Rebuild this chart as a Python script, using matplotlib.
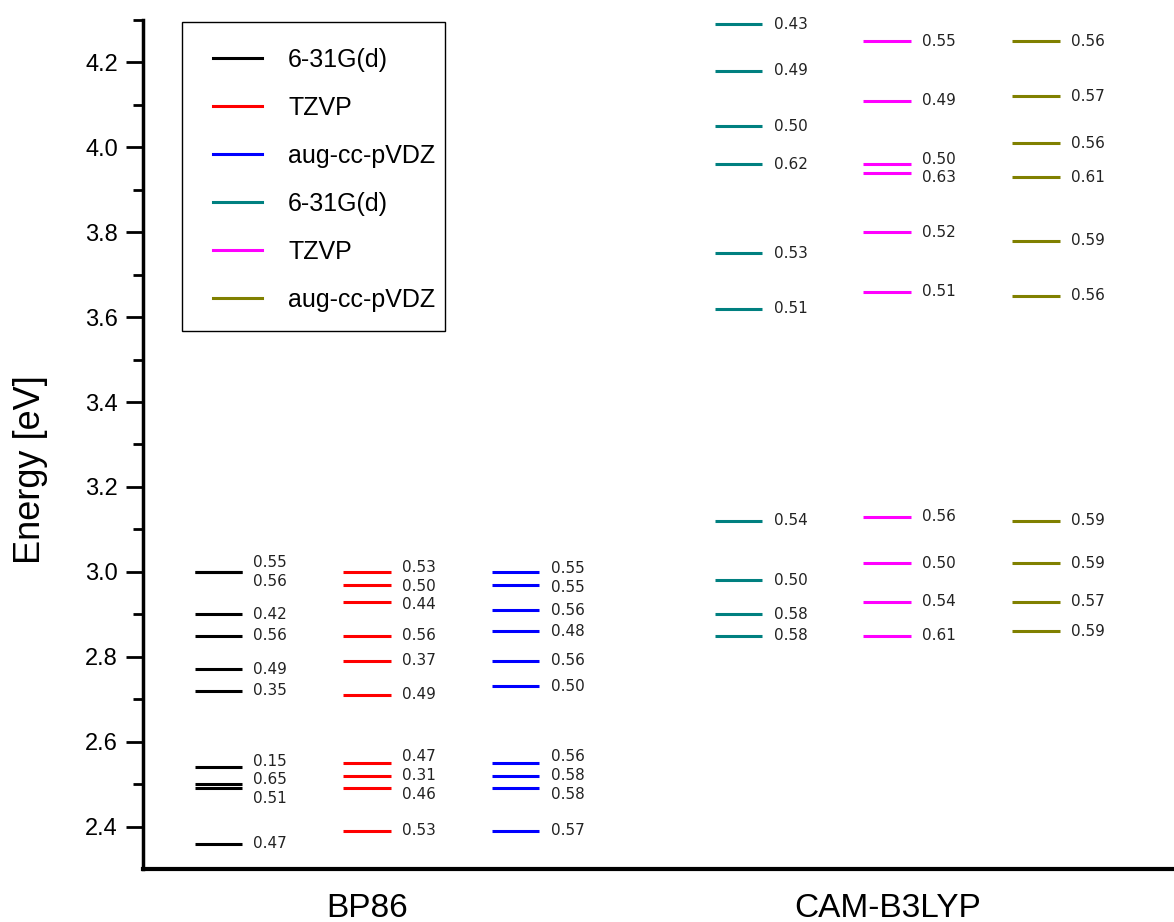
import matplotlib
matplotlib.use("Agg")
import matplotlib.pyplot as plt
from matplotlib.lines import Line2D
from matplotlib.patches import Rectangle
import numpy as np

# ---------------- data ----------------
groups = ["BP86", "CAM-B3LYP"]
basis_sets = ["6-31G(d)", "TZVP", "aug-cc-pVDZ", "6-31G(d)", "TZVP", "aug-cc-pVDZ"]
series_colors = ["#000000", "#ff0000", "#0000ff", "#008080", "#ff00ff", "#808000"]

bp86_631g_E = [3.00, 3.00, 2.90, 2.85, 2.77, 2.72, 2.54, 2.50, 2.49, 2.36]
bp86_631g_f = ["0.55", "0.56", "0.42", "0.56", "0.49", "0.35", "0.15", "0.65", "0.51", "0.47"]

bp86_tzvp_E = [3.00, 2.97, 2.93, 2.85, 2.79, 2.71, 2.55, 2.52, 2.49, 2.39]
bp86_tzvp_f = ["0.53", "0.50", "0.44", "0.56", "0.37", "0.49", "0.47", "0.31", "0.46", "0.53"]

bp86_aug_E = [3.00, 2.97, 2.91, 2.86, 2.79, 2.73, 2.55, 2.52, 2.49, 2.39]
bp86_aug_f = ["0.55", "0.55", "0.56", "0.48", "0.56", "0.50", "0.56", "0.58", "0.58", "0.57"]

cam_631g_E = [4.29, 4.18, 4.05, 3.96, 3.75, 3.62, 3.12, 2.98, 2.90, 2.85]
cam_631g_f = ["0.43", "0.49", "0.50", "0.62", "0.53", "0.51", "0.54", "0.50", "0.58", "0.58"]

cam_tzvp_E = [4.25, 4.11, 3.96, 3.94, 3.80, 3.66, 3.13, 3.02, 2.93, 2.85]
cam_tzvp_f = ["0.55", "0.49", "0.50", "0.63", "0.52", "0.51", "0.56", "0.50", "0.54", "0.61"]

cam_aug_E = [4.25, 4.12, 4.01, 3.93, 3.78, 3.65, 3.12, 3.02, 2.93, 2.86]
cam_aug_f = ["0.56", "0.57", "0.56", "0.61", "0.59", "0.56", "0.59", "0.59", "0.57", "0.59"]

all_E = [bp86_631g_E, bp86_tzvp_E, bp86_aug_E, cam_631g_E, cam_tzvp_E, cam_aug_E]
all_f = [bp86_631g_f, bp86_tzvp_f, bp86_aug_f, cam_631g_f, cam_tzvp_f, cam_aug_f]

# ---------------- layout ----------------
col_pos = [0.0, 1.0, 2.0, 3.5, 4.5, 5.5]
group_pos = [1.0, 4.5]
half_w = 0.16
lab_dx = 0.235
min_gap = 0.044


def spread_labels(energies, gap):
    """Place label y-positions so they don't overlap (cluster centering)."""
    order = sorted(range(len(energies)), key=lambda i: -energies[i])
    ys = [energies[i] for i in order]
    clusters = [[k] for k in range(len(ys))]
    changed = True
    while changed:
        changed = False
        new_clusters = []
        for c in clusters:
            if new_clusters:
                prev = new_clusters[-1]
                prev_center = np.mean([ys[k] for k in prev])
                prev_bottom = prev_center - gap * (len(prev) - 1) / 2
                cur_center = np.mean([ys[k] for k in c])
                cur_top = cur_center + gap * (len(c) - 1) / 2
                if prev_bottom - cur_top < gap - 1e-9:
                    new_clusters[-1] = prev + c
                    changed = True
                    continue
            new_clusters.append(c)
        clusters = new_clusters
    pos = list(ys)
    for c in clusters:
        center = np.mean([ys[k] for k in c])
        n = len(c)
        for j, k in enumerate(c):
            pos[k] = center + gap * ((n - 1) / 2 - j)
    out = [0.0] * len(energies)
    for rank, i in enumerate(order):
        out[i] = pos[rank]
    return out


fig = plt.figure(figsize=(11.74, 9.22), dpi=100)
ax = fig.add_axes([143 / 1174, 53 / 922, 1 - 143 / 1174, 849 / 922])

for x, E, f, col in zip(col_pos, all_E, all_f, series_colors):
    ax.hlines(E, x - half_w, x + half_w, colors=col, linewidth=2.2)
    ly = spread_labels(E, min_gap)
    for yy, txt in zip(ly, f):
        ax.text(x + lab_dx, yy, txt, fontsize=11, va="center", ha="left",
                family="DejaVu Sans", color="#222222")

ax.set_xlim(-0.508, 6.43)
ax.set_ylim(2.3, 4.3)

major = np.arange(2.4, 4.21, 0.2)
ax.set_yticks(major)
ax.set_yticks(np.arange(2.5, 4.31, 0.2), minor=True)
ax.set_yticklabels([f"{v:.1f}" for v in major], fontsize=17, family="Liberation Sans")
ax.tick_params(axis="y", which="major", length=12, width=2, pad=6)
ax.tick_params(axis="y", which="minor", length=7, width=2)

ax.set_xticks(group_pos)
ax.set_xticklabels(groups, fontsize=24, family="Liberation Sans")
ax.tick_params(axis="x", length=0, pad=17)

ax.set_ylabel("Energy [eV]", fontsize=26, family="Liberation Sans")
ax.yaxis.set_label_coords(-0.092, 0.47)

for s in ["top", "right"]:
    ax.spines[s].set_visible(False)
ax.spines["left"].set_linewidth(2.5)
ax.spines["bottom"].set_linewidth(3)

handles = [Line2D([0], [0], color=c, lw=2.2) for c in series_colors]
leg = ax.legend(handles, basis_sets, loc="upper left",
                bbox_to_anchor=(0.0679, 0.9676), borderaxespad=0, borderpad=0,
                frameon=False, prop={"family": "Liberation Sans", "size": 18},
                handlelength=1.95, handletextpad=1.05, labelspacing=0.96)
ax.add_patch(Rectangle((0.0378, 0.6337), 0.2551, 0.364, transform=ax.transAxes,
                       fill=False, edgecolor="black", linewidth=1.0, zorder=5))

fig.savefig("out.png", dpi=100)
